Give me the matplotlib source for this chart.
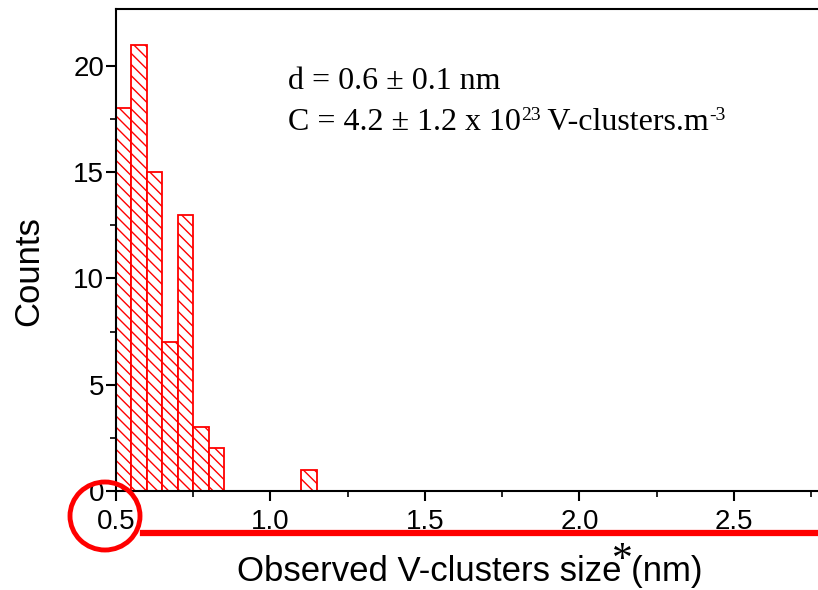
import numpy as np
import matplotlib
matplotlib.use("Agg")
import matplotlib.pyplot as plt
from matplotlib.patches import Ellipse
from matplotlib.lines import Line2D

# ===== data =====
bin_left = [0.50, 0.55, 0.60, 0.65, 0.70, 0.75, 0.80, 1.10]
counts = [18, 21, 15, 7, 13, 3, 2, 1]
bin_width = 0.05

x_ticks = [0.5, 1.0, 1.5, 2.0, 2.5]
y_ticks = [0, 5, 10, 15, 20]

# annotation line 2 split into (text, superscript?) pieces
conc_parts = [("C = 4.2 ± 1.2 x 10", False), ("23", True),
              (" V-clusters.m", False), ("-3", True)]

W, H = 818, 590


def px(x, y):
    # pixel coords (top-left origin) -> figure fraction
    return x / W, 1 - y / H


plt.rcParams["font.family"] = ["Liberation Sans", "DejaVu Sans"]
plt.rcParams["hatch.color"] = "red"
plt.rcParams["hatch.linewidth"] = 1.0

fig = plt.figure(figsize=(W / 100, H / 100), dpi=100)
l, b = px(116, 491)
r, t = px(818, 9.3)
ax = fig.add_axes([l, b, r - l, t - b])

ax.bar(bin_left, counts, width=bin_width, align="edge",
       facecolor="white", edgecolor="red", linewidth=1.3, hatch="\\\\\\")

ax.set_xlim(0.5, 2.772)
ax.set_ylim(0, 22.66)
ax.set_xticks(x_ticks)
ax.set_xticklabels([f"{v:.1f}" for v in x_ticks])
ax.set_yticks(y_ticks)
ax.set_xticks(np.arange(0.75, 2.8, 0.5), minor=True)
ax.set_yticks(np.arange(2.5, 22.5, 5), minor=True)
ax.tick_params(which="major", direction="out", length=7, width=1.5, labelsize=20)
ax.tick_params(axis="x", which="major", pad=6)
ax.tick_params(axis="y", which="major", pad=1.5)
ax.tick_params(which="minor", direction="out", length=4, width=1.2)
ax.spines["right"].set_visible(False)
for s in ["left", "bottom", "top"]:
    ax.spines[s].set_linewidth(1.5)

# annotation text (Times-like)
serif = "Liberation Serif"
fig.text(*px(288, 89), "d = 0.6 ± 0.1 nm", fontsize=23, family=serif, va="baseline")

renderer = fig.canvas.get_renderer()
x_cur = 288
for txt, sup in conc_parts:
    if sup:
        tt = fig.text(*px(x_cur, 120), txt, fontsize=14, family=serif, va="baseline")
    else:
        tt = fig.text(*px(x_cur, 130), txt, fontsize=23, family=serif, va="baseline")
    x_cur += tt.get_window_extent(renderer).width

# axis labels
fig.text(*px(29, 271), "Counts", rotation=90, ha="center", va="center", fontsize=25)
fig.text(*px(470, 572), "Observed V-clusters size (nm)", ha="center", va="center",
         fontsize=25)
fig.text(*px(622, 571), "*", ha="center", va="baseline", fontsize=30, family=serif)

# red marks drawn on top
ell = Ellipse(px(105, 516), 70 / W, 68 / H, transform=fig.transFigure,
              fill=False, edgecolor="red", linewidth=3.5)
fig.add_artist(ell)
fig.add_artist(Line2D([143 / W, 1.0], [1 - 533 / H, 1 - 533 / H],
                      transform=fig.transFigure, color="red", linewidth=4.5))

fig.savefig("out.png", dpi=100)
